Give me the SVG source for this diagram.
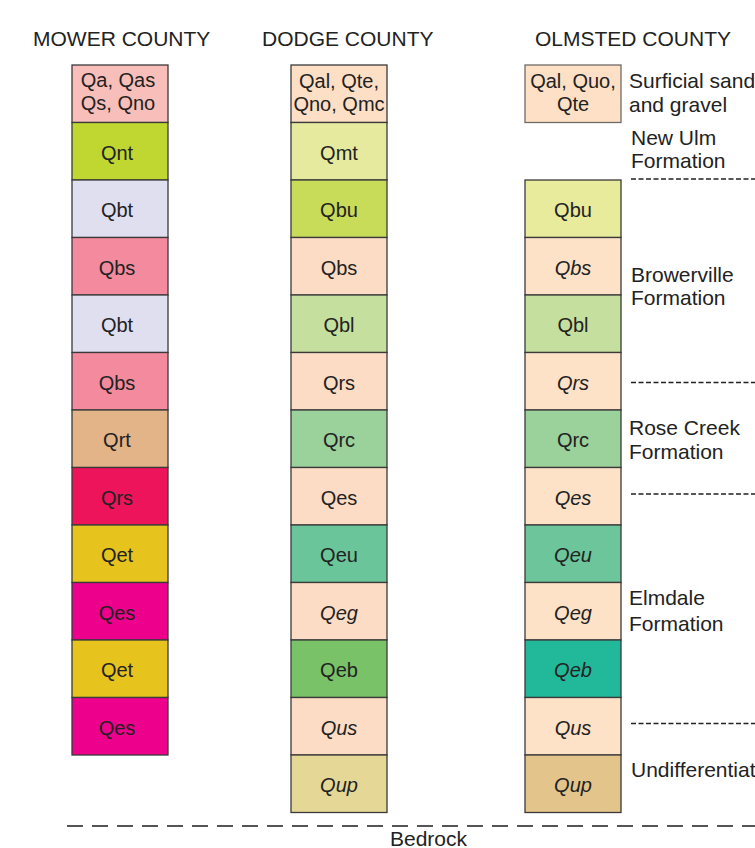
<svg xmlns="http://www.w3.org/2000/svg" width="755" height="848" viewBox="0 0 755 848">
<style>
text{font-family:"Liberation Sans",Arial,Helvetica,sans-serif;fill:#222}
.h{font-size:21px}
.b{font-size:20px;text-anchor:middle}
.i{font-style:italic}
.r{font-size:21px}
rect{stroke:#3a3a3a;stroke-width:1.3}
.fl{stroke:#222;stroke-width:1.3;stroke-dasharray:5 2.5;fill:none}
.bed{stroke:#555;stroke-width:2;stroke-dasharray:16 9;fill:none}
</style>
<rect x="0" y="0" width="755" height="848" fill="#fff" style="stroke:none"/>
<g id="headers">
<text class="h" x="33" y="46">MOWER COUNTY</text>
<text class="h" x="262" y="46">DODGE COUNTY</text>
<text class="h" x="535" y="46">OLMSTED COUNTY</text>
</g>
<g id="mower">
<g id="m0"><rect x="72" y="65" width="96" height="57.5" fill="#F8BEB9"/><text class="b" x="118" y="87">Qa, Qas</text><text class="b" x="118" y="110">Qs, Qno</text></g>
<g id="m1"><rect x="72" y="122.5" width="96" height="57.5" fill="#BFD730"/><text class="b" x="117" y="159.5">Qnt</text></g>
<g id="m2"><rect x="72" y="180" width="96" height="57.5" fill="#E0DFEF"/><text class="b" x="117" y="217">Qbt</text></g>
<g id="m3"><rect x="72" y="237.5" width="96" height="57.5" fill="#F38A9E"/><text class="b" x="117" y="274.5">Qbs</text></g>
<g id="m4"><rect x="72" y="295" width="96" height="57.5" fill="#E0DFEF"/><text class="b" x="117" y="332">Qbt</text></g>
<g id="m5"><rect x="72" y="352.5" width="96" height="57.5" fill="#F38A9E"/><text class="b" x="117" y="389.5">Qbs</text></g>
<g id="m6"><rect x="72" y="410" width="96" height="57.5" fill="#E3B488"/><text class="b" x="117" y="447">Qrt</text></g>
<g id="m7"><rect x="72" y="467.5" width="96" height="57.5" fill="#EE145B"/><text class="b" x="117" y="504.5">Qrs</text></g>
<g id="m8"><rect x="72" y="525" width="96" height="57.5" fill="#E7C31E"/><text class="b" x="117" y="562">Qet</text></g>
<g id="m9"><rect x="72" y="582.5" width="96" height="57.5" fill="#EC008C"/><text class="b" x="117" y="619.5">Qes</text></g>
<g id="m10"><rect x="72" y="640" width="96" height="57.5" fill="#E7C31E"/><text class="b" x="117" y="677">Qet</text></g>
<g id="m11"><rect x="72" y="697.5" width="96" height="57.5" fill="#EC008C"/><text class="b" x="117" y="734.5">Qes</text></g>
</g>
<g id="dodge">
<g id="d0"><rect x="291" y="65" width="96" height="57.5" fill="#FDDFC6"/><text class="b" x="339" y="88">Qal, Qte,</text><text class="b" x="339" y="111">Qno, Qmc</text></g>
<g id="d1"><rect x="291" y="122.5" width="96" height="57.5" fill="#E6EA9F"/><text class="b" x="339" y="159.5">Qmt</text></g>
<g id="d2"><rect x="291" y="180" width="96" height="57.5" fill="#C8DC5A"/><text class="b" x="339" y="217">Qbu</text></g>
<g id="d3"><rect x="291" y="237.5" width="96" height="57.5" fill="#FCDCC4"/><text class="b" x="339" y="274.5">Qbs</text></g>
<g id="d4"><rect x="291" y="295" width="96" height="57.5" fill="#C5DF9E"/><text class="b" x="339" y="332">Qbl</text></g>
<g id="d5"><rect x="291" y="352.5" width="96" height="57.5" fill="#FCDCC4"/><text class="b" x="339" y="389.5">Qrs</text></g>
<g id="d6"><rect x="291" y="410" width="96" height="57.5" fill="#9BD19A"/><text class="b" x="339" y="447">Qrc</text></g>
<g id="d7"><rect x="291" y="467.5" width="96" height="57.5" fill="#FCDCC4"/><text class="b" x="339" y="504.5">Qes</text></g>
<g id="d8"><rect x="291" y="525" width="96" height="57.5" fill="#6BC59B"/><text class="b" x="339" y="562">Qeu</text></g>
<g id="d9"><rect x="291" y="582.5" width="96" height="57.5" fill="#FCDCC4"/><text class="b i" x="339" y="619.5">Qeg</text></g>
<g id="d10"><rect x="291" y="640" width="96" height="57.5" fill="#79C268"/><text class="b" x="339" y="677">Qeb</text></g>
<g id="d11"><rect x="291" y="697.5" width="96" height="57.5" fill="#FCDCC4"/><text class="b i" x="339" y="734.5">Qus</text></g>
<g id="d12"><rect x="291" y="755" width="96" height="57.5" fill="#E5D896"/><text class="b i" x="339" y="792">Qup</text></g>
</g>
<g id="olmsted">
<g id="o0"><rect x="525" y="65" width="96" height="57.5" fill="#FDE0C6" style="stroke:#6f6a66"/><text class="b" x="573" y="88">Qal, Quo,</text><text class="b" x="573" y="111">Qte</text></g>
<g id="o2"><rect x="525" y="180" width="96" height="57.5" fill="#E8EA9C"/><text class="b" x="573" y="217">Qbu</text></g>
<g id="o3"><rect x="525" y="237.5" width="96" height="57.5" fill="#FDE2C8"/><text class="b i" x="573" y="274.5">Qbs</text></g>
<g id="o4"><rect x="525" y="295" width="96" height="57.5" fill="#C5DF9E"/><text class="b" x="573" y="332">Qbl</text></g>
<g id="o5"><rect x="525" y="352.5" width="96" height="57.5" fill="#FDE2C8"/><text class="b i" x="573" y="389.5">Qrs</text></g>
<g id="o6"><rect x="525" y="410" width="96" height="57.5" fill="#9BD19A"/><text class="b" x="573" y="447">Qrc</text></g>
<g id="o7"><rect x="525" y="467.5" width="96" height="57.5" fill="#FDE2C8"/><text class="b i" x="573" y="504.5">Qes</text></g>
<g id="o8"><rect x="525" y="525" width="96" height="57.5" fill="#6CC59B"/><text class="b i" x="573" y="562">Qeu</text></g>
<g id="o9"><rect x="525" y="582.5" width="96" height="57.5" fill="#FDE2C8"/><text class="b i" x="573" y="619.5">Qeg</text></g>
<g id="o10"><rect x="525" y="640" width="96" height="57.5" fill="#22B89A"/><text class="b i" x="573" y="677">Qeb</text></g>
<g id="o11"><rect x="525" y="697.5" width="96" height="57.5" fill="#FDE2C8"/><text class="b i" x="573" y="734.5">Qus</text></g>
<g id="o12"><rect x="525" y="755" width="96" height="57.5" fill="#E3C58C"/><text class="b i" x="573" y="792">Qup</text></g>
</g>
<g id="formations">
<g id="f-surficial"><text class="r" x="629" y="88">Surficial sand</text><text class="r" x="629" y="112">and gravel</text></g>
<g id="f-newulm"><text class="r" x="631" y="145">New Ulm</text><text class="r" x="631" y="168">Formation</text></g>
<g id="f-browerville"><text class="r" x="631" y="282">Browerville</text><text class="r" x="631" y="305">Formation</text></g>
<g id="f-rosecreek"><text class="r" x="629" y="435">Rose Creek</text><text class="r" x="629" y="459">Formation</text></g>
<g id="f-elmdale"><text class="r" x="629" y="605">Elmdale</text><text class="r" x="629" y="631">Formation</text></g>
<g id="f-undiff"><text class="r" x="631" y="777">Undifferentiated</text></g>
<g id="bedrock"><text class="r" x="390" y="846">Bedrock</text></g>
</g>
<g id="connectors">
<line class="fl" x1="631" y1="179" x2="755" y2="179"/>
<line class="fl" x1="631" y1="382.5" x2="755" y2="382.5"/>
<line class="fl" x1="631" y1="494" x2="755" y2="494"/>
<line class="fl" x1="631" y1="723.5" x2="755" y2="723.5"/>
<line class="bed" x1="67" y1="826" x2="755" y2="826"/>
</g>
</svg>
